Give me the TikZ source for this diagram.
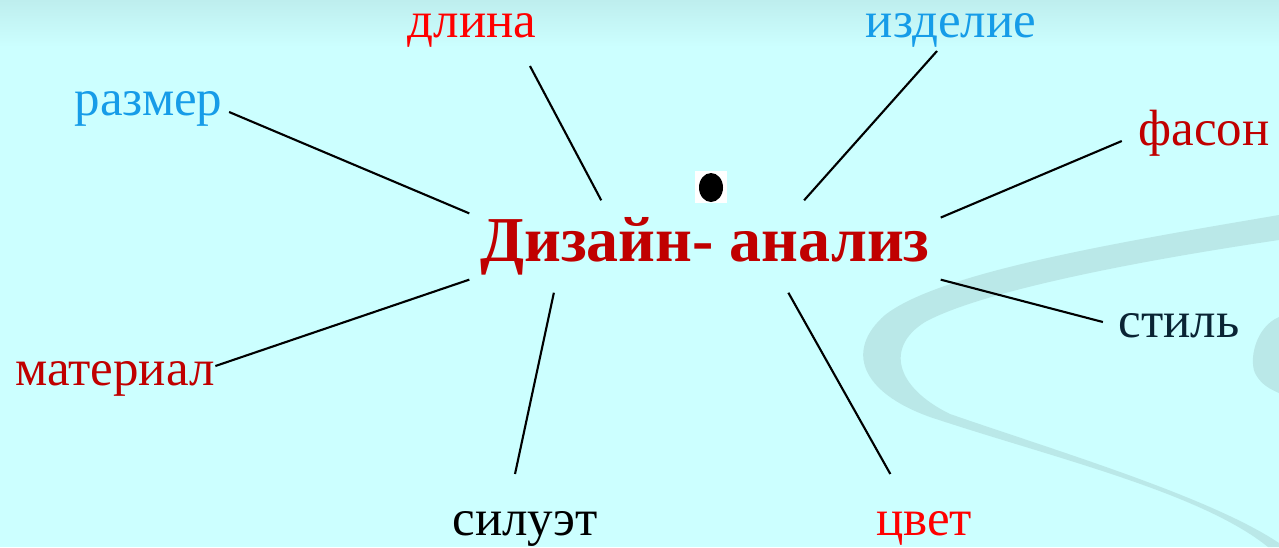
\documentclass[tikz,border=0pt]{standalone}
\usepackage{fontspec}
\setmainfont{Liberation Serif}
\definecolor{bgcyan}{RGB}{204,255,255}
\definecolor{bgtop}{RGB}{190,238,238}
\definecolor{swooshteal}{RGB}{186,232,232}
\definecolor{termblue}{RGB}{22,156,232}
\definecolor{termred}{RGB}{255,0,0}
\definecolor{termdarkred}{RGB}{192,0,0}
\definecolor{termnavy}{RGB}{10,36,52}
\tikzset{
    term/.style={inner sep=0pt, anchor=base,
                 font=\fontsize{14.5pt}{17pt}\selectfont},
    hub/.style={anchor=base, text=termdarkred,
                font=\bfseries\fontsize{18.2pt}{21pt}\selectfont,
                text height=0.42cm, text depth=0.13cm,
                inner xsep=0pt, inner ysep=0.18cm, minimum width=4.7cm},
    spoke/.style={line width=0.6pt},
    swoosh/.style={fill=swooshteal},
}

\begin{document}
\begin{tikzpicture}

    % background
    \useasboundingbox (0,0) rectangle (12.79,5.47);
    \fill[bgcyan] (0,0) rectangle (12.79,5.47);
    \shade[top color=bgtop, bottom color=bgcyan] (0,5.0) rectangle (12.79,5.47);
    \fill[swoosh] (12.79,3.32) .. controls (11.2,3.05) and (9.4,2.75) .. (8.85,2.32)
        .. controls (8.45,1.97) and (8.6,1.55) .. (9.3,1.30)
        .. controls (10.5,0.9) and (12.0,0.55) .. (12.68,0) -- (12.79,0) -- (12.79,0.04)
        .. controls (12.1,0.5) and (10.6,0.95) .. (9.5,1.33)
        .. controls (8.95,1.6) and (8.85,2.0) .. (9.25,2.25)
        .. controls (9.8,2.55) and (11.3,2.85) .. (12.79,3.07) -- cycle;
    \fill[swoosh] (12.79,2.30) .. controls (12.55,2.2) and (12.48,1.85) .. (12.56,1.72)
        .. controls (12.62,1.62) and (12.70,1.58) .. (12.79,1.54) -- cycle;
    \fill[white] (6.95,3.44) rectangle (7.27,3.76);
    \fill[black] (7.11,3.595) ellipse (0.12 and 0.145);

    \node[hub] (analysis) at (7.05,2.86) {Дизайн- анализ};
    \node[term, text=termblue] (razmer) at (1.485,4.32) {размер};
    \node[term, text=termred] (dlina) at (4.72,5.10) {длина};
    \node[term, text=termblue] (izdelie) at (9.51,5.10) {изделие};
    \node[term, text=termdarkred] (fason) at (12.04,4.02) {фасон};
    \node[term, text=termnavy] (stil) at (11.79,2.10) {стиль};
    \node[term, text=termred] (cvet) at (9.24,0.12) {цвет};
    \node[term, text=black] (siluet) at (5.25,0.12) {силуэт};
    \node[term, text=termdarkred] (material) at (1.15,1.62) {материал};

    \draw[spoke] (analysis.172) -- ([shift={(0.06,0.03)}]razmer.base east);
    \draw[spoke] (analysis.156) -- ([shift={(-0.07,-0.29)}]dlina.base east);
    \draw[spoke] (analysis.25) -- ([shift={(-0.14,-0.14)}]izdelie.base);
    \draw[spoke] (analysis.7) -- ([shift={(-0.16,0.04)}]fason.base west);
    \draw[spoke] (analysis.-8) -- ([shift={(-0.15,0.15)}]stil.base west);
    \draw[spoke] (analysis.-29) -- ([shift={(0.15,0.61)}]cvet.base west);
    \draw[spoke] (analysis.197) -- ([shift={(-0.10,0.61)}]siluet.base);
    \draw[spoke] (analysis.188) -- ([shift={(0,0.19)}]material.base east);

\end{tikzpicture}
\end{document}
